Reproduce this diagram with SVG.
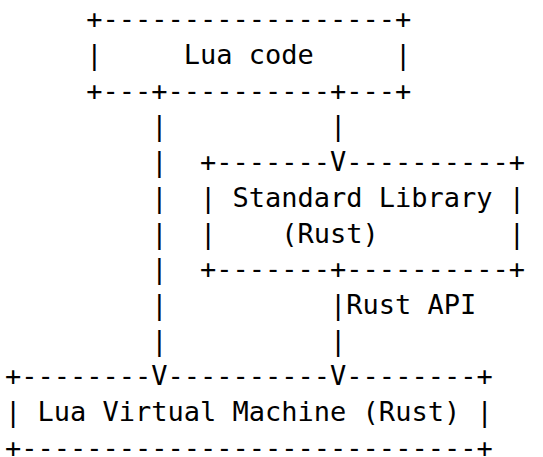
<svg xmlns="http://www.w3.org/2000/svg" width="543" height="457" viewBox="0 0 543 457" xml:space="preserve">
  <style>
    text { font-family: "DejaVu Sans Mono", "Liberation Mono", monospace; font-size: 27px; fill: #000; white-space: pre; }
  </style>
  <rect width="543" height="457" fill="#fff"/>
  <!-- monospace grid: x = 5 + col * 16.25, baseline = 28.3 + row * 35.7 -->
  <g id="lua-code">
    <text x="86.25" y="28.3">+------------------+</text>
    <text x="86.25" y="64">|     Lua code     |</text>
    <text x="86.25" y="99.7">+---+----------+---+</text>
  </g>
  <g id="standard-library">
    <text x="200" y="171.1">+-------V----------+</text>
    <text x="200" y="206.8">| Standard Library |</text>
    <text x="200" y="242.5">|    (Rust)        |</text>
    <text x="200" y="278.2">+-------+----------+</text>
  </g>
  <g id="lua-vm">
    <text x="5" y="385.3">+--------V----------V--------+</text>
    <text x="5" y="421">| Lua Virtual Machine (Rust) |</text>
    <text x="5" y="456.7">+----------------------------+</text>
  </g>
  <g id="connectors">
    <!-- left line: Lua code straight down to the VM -->
    <text x="151.25" y="135.4">|</text>
    <text x="151.25" y="171.1">|</text>
    <text x="151.25" y="206.8">|</text>
    <text x="151.25" y="242.5">|</text>
    <text x="151.25" y="278.2">|</text>
    <text x="151.25" y="313.9">|</text>
    <text x="151.25" y="349.6">|</text>
    <!-- right line: Lua code to the standard library -->
    <text x="330" y="135.4">|</text>
    <!-- standard library to the VM through the Rust API -->
    <text x="330" y="313.9">|Rust API</text>
    <text x="330" y="349.6">|</text>
  </g>
</svg>
